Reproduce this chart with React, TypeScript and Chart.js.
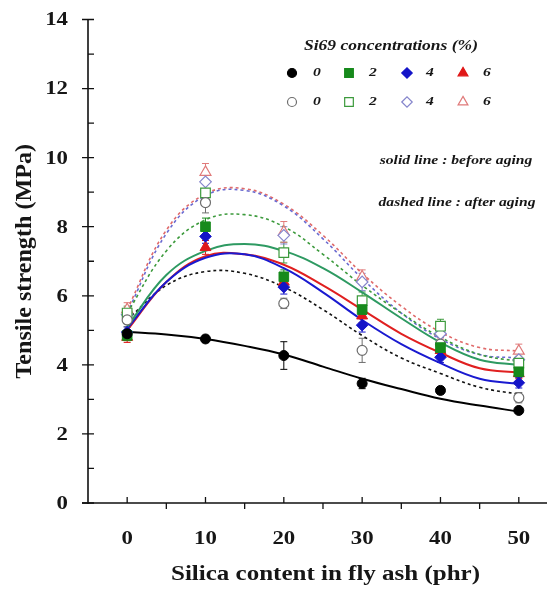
import React, { useEffect, useRef } from "react";
import { Chart, registerables } from "chart.js";
import { drawPoint } from "chart.js/helpers";

Chart.register(...registerables);

// ---------- data ----------
const silicaPhr = [0, 10, 20, 30, 40, 50];

// measured points, before aging (filled symbols)
const before0 = [4.9, 4.75, 4.27, 3.46, 3.26, 2.68];
const before2 = [4.85, 8.0, 6.55, 5.6, 4.5, 3.8];
const before4 = [4.95, 7.72, 6.25, 5.15, 4.22, 3.48];
const before6 = [4.8, 7.4, 6.4, 5.42, 4.42, 3.75];
// measured points, after aging (open symbols)
const after0 = [5.3, 8.7, 5.78, 4.42, 4.6, 3.05];
const after2 = [5.5, 8.98, 7.25, 5.86, 5.12, 4.05];
const after4 = [5.45, 9.3, 7.75, 6.4, 4.9, 4.15];
const after6 = [5.6, 9.58, 7.85, 6.55, 4.95, 4.4];

// error bars (half-length)
const errBefore0 = [0.1, 0.1, 0.4, 0.15, 0.1, 0.08];
const errBefore2 = [0.15, 0.25, 0.2, 0.2, 0.15, 0.15];
const errBefore4 = [0.15, 0.2, 0.2, 0.2, 0.15, 0.15];
const errBefore6 = [0.15, 0.2, 0.2, 0.2, 0.15, 0.15];
const errAfter0 = [0.2, 0.3, 0.15, 0.35, 0.2, 0.15];
const errAfter2 = [0.2, 0.3, 0.3, 0.25, 0.2, 0.2];
const errAfter4 = [0.2, 0.2, 0.25, 0.25, 0.2, 0.2];
const errAfter6 = [0.2, 0.25, 0.3, 0.2, 0.2, 0.2];

// fitted curves, read every 5 phr
const fitX = [0, 5, 10, 15, 20, 25, 30, 35, 40, 45, 50];
const fitBefore0 = [4.95, 4.88, 4.75, 4.55, 4.3, 3.95, 3.6, 3.3, 3.02, 2.82, 2.65];
const fitBefore2 = [5.1, 6.6, 7.3, 7.5, 7.3, 6.8, 6.1, 5.35, 4.65, 4.15, 4.0];
const fitBefore4 = [5.05, 6.4, 7.1, 7.2, 6.8, 6.1, 5.3, 4.6, 4.05, 3.6, 3.45];
const fitBefore6 = [5.0, 6.4, 7.15, 7.2, 6.9, 6.3, 5.6, 4.9, 4.35, 3.9, 3.78];
const fitAfter0 = [5.3, 6.3, 6.7, 6.65, 6.25, 5.6, 4.85, 4.2, 3.75, 3.35, 3.15];
const fitAfter2 = [5.5, 7.3, 8.2, 8.35, 8.0, 7.2, 6.3, 5.5, 4.8, 4.3, 4.1];
const fitAfter4 = [5.5, 7.8, 8.9, 9.05, 8.6, 7.65, 6.5, 5.5, 4.75, 4.3, 4.2];
const fitAfter6 = [5.6, 7.9, 8.95, 9.1, 8.65, 7.75, 6.65, 5.7, 4.95, 4.5, 4.4];

// ticks & labels
const yMajorTicks = [0, 2, 4, 6, 8, 10, 12, 14];
const yMinorTicks = [1, 3, 5, 7, 9, 11, 13];
const xMajorTicks = [0, 10, 20, 30, 40, 50];
const xMinorTicks = [5, 15, 25, 35, 45];
const concLabels = ["0", "2", "4", "6"];

const xTitle = "Silica content in fly ash (phr)";
const yTitle = "Tensile strength (MPa)";
const legendTitle = "Si69 concentrations (%)";
const noteSolid = "solid line : before aging";
const noteDashed = "dashed line : after aging";

// ---------- styles ----------
const SERIF = '"Liberation Serif", "Times New Roman", serif';
const TEXT = "#161616";

const filledStyles = [
  { style: "circle", r: 5, color: "#000000" },
  { style: "rect", r: 6.8, color: "#178a1c" },
  { style: "rectRot", r: 5.8, color: "#1414c8" },
  { style: "triangle", r: 6.3, color: "#e01818" },
];
const openStyles = [
  { style: "circle", r: 5, color: "#6e6e6e" },
  { style: "rect", r: 6.8, color: "#3c9a3c" },
  { style: "rectRot", r: 5.8, color: "#8585cc" },
  { style: "triangle", r: 6.3, color: "#e07a7a" },
];
const solidLineColors = ["#000000", "#2e9a62", "#1a1ad0", "#e02020"];
const dashedLineColors = ["#111111", "#3c9a3c", "#6a6ad0", "#e06a6a"];

function pts(xs: number[], ys: number[]) {
  return xs.map((x, i) => ({ x, y: ys[i] }));
}

function stretchText(
  ctx: CanvasRenderingContext2D,
  text: string,
  x: number,
  y: number,
  font: string,
  align: CanvasTextAlign,
  sx: number,
  rot = 0
) {
  ctx.save();
  ctx.translate(x, y);
  if (rot) ctx.rotate(rot);
  ctx.scale(sx, 1);
  ctx.font = font;
  ctx.textAlign = align;
  ctx.textBaseline = "middle";
  ctx.fillStyle = TEXT;
  ctx.fillText(text, 0, 0);
  ctx.restore();
}

const decorPlugin = {
  id: "decor",
  beforeDatasetsDraw(chart: any) {
    const { ctx, scales } = chart;
    const xs = scales.x;
    const ys = scales.y;
    ctx.save();
    chart.data.datasets.forEach((ds: any) => {
      if (!ds.errors) return;
      ctx.strokeStyle = ds.borderColor;
      ctx.lineWidth = 1;
      ds.data.forEach((p: any, i: number) => {
        const e = ds.errors[i];
        if (!e) return;
        const px = xs.getPixelForValue(p.x);
        const y1 = ys.getPixelForValue(p.y - e);
        const y2 = ys.getPixelForValue(p.y + e);
        ctx.beginPath();
        ctx.moveTo(px, y1);
        ctx.lineTo(px, y2);
        ctx.moveTo(px - 3.5, y1);
        ctx.lineTo(px + 3.5, y1);
        ctx.moveTo(px - 3.5, y2);
        ctx.lineTo(px + 3.5, y2);
        ctx.stroke();
      });
    });
    ctx.restore();
  },
  afterDraw(chart: any) {
    const { ctx, scales, chartArea } = chart;
    const xs = scales.x;
    const ys = scales.y;
    const left = chartArea.left;
    const y0 = ys.getPixelForValue(0);
    ctx.save();
    ctx.strokeStyle = "#111";
    ctx.lineWidth = 1.6;
    // axes lines
    ctx.beginPath();
    ctx.moveTo(left, ys.getPixelForValue(14));
    ctx.lineTo(left, y0 + 1);
    ctx.moveTo(left - 6, y0);
    ctx.lineTo(chartArea.right, y0);
    ctx.stroke();
    ctx.lineWidth = 1.3;
    ctx.beginPath();
    yMajorTicks.forEach((v) => {
      const p = ys.getPixelForValue(v);
      ctx.moveTo(left - 6, p);
      ctx.lineTo(left + 6, p);
    });
    yMinorTicks.forEach((v) => {
      const p = ys.getPixelForValue(v);
      ctx.moveTo(left, p);
      ctx.lineTo(left + 6, p);
    });
    xMajorTicks.forEach((v) => {
      const p = xs.getPixelForValue(v);
      ctx.moveTo(p, y0);
      ctx.lineTo(p, y0 - 6);
    });
    xMinorTicks.forEach((v) => {
      const p = xs.getPixelForValue(v);
      ctx.moveTo(p, y0);
      ctx.lineTo(p, y0 + 6);
    });
    ctx.stroke();

    // tick labels
    const tickFont = `bold 19px ${SERIF}`;
    yMajorTicks.forEach((v) => {
      stretchText(ctx, String(v), 68, ys.getPixelForValue(v) + 1, tickFont, "right", 1.2);
    });
    xMajorTicks.forEach((v) => {
      stretchText(ctx, String(v), xs.getPixelForValue(v), 539, tickFont, "center", 1.2);
    });

    // axis titles
    stretchText(ctx, xTitle, (chartArea.left + chartArea.right) / 2 + 8, 575, `bold 20px ${SERIF}`, "center", 1.25);
    stretchText(ctx, yTitle, 25, (chartArea.top + chartArea.bottom) / 2, `bold 23px ${SERIF}`, "center", 1.05, -Math.PI / 2);

    // legend
    stretchText(ctx, legendTitle, 391, 46, `italic bold 14px ${SERIF}`, "center", 1.25);
    const symX = [292, 349, 407, 463];
    const labX = [317, 373, 430, 487];
    const rows = [73, 102];
    [filledStyles, openStyles].forEach((set, ri) => {
      set.forEach((s, i) => {
        ctx.save();
        ctx.fillStyle = ri === 0 ? s.color : "#ffffff";
        ctx.strokeStyle = s.color;
        ctx.lineWidth = 1.2;
        drawPoint(ctx, { pointStyle: s.style as any, radius: s.r * 0.9, borderWidth: 1.2, rotation: 0 }, symX[i], rows[ri]);
        ctx.restore();
        stretchText(ctx, concLabels[i], labX[i], rows[ri], `italic bold 13px ${SERIF}`, "center", 1.2);
      });
    });
    stretchText(ctx, noteSolid, 456, 161, `italic bold 13px ${SERIF}`, "center", 1.2);
    stretchText(ctx, noteDashed, 457, 203, `italic bold 13px ${SERIF}`, "center", 1.2);
    ctx.restore();
  },
};

export default function App() {
  const ref = useRef<HTMLCanvasElement>(null);
  useEffect(() => {
    const canvas = ref.current;
    if (!canvas) return;
    const beforeSets = [before0, before2, before4, before6];
    const afterSets = [after0, after2, after4, after6];
    const beforeErr = [errBefore0, errBefore2, errBefore4, errBefore6];
    const afterErr = [errAfter0, errAfter2, errAfter4, errAfter6];
    const fitsBefore = [fitBefore0, fitBefore2, fitBefore4, fitBefore6];
    const fitsAfter = [fitAfter0, fitAfter2, fitAfter4, fitAfter6];

    const datasets: any[] = [];
    beforeSets.forEach((ys, i) => {
      const s = filledStyles[i];
      datasets.push({
        label: `before ${concLabels[i]}`,
        data: pts(silicaPhr, ys),
        errors: beforeErr[i],
        pointStyle: s.style,
        pointRadius: s.r,
        backgroundColor: s.color,
        borderColor: s.color,
        pointBorderWidth: 1,
        showLine: false,
      });
    });
    afterSets.forEach((ys, i) => {
      const s = openStyles[i];
      datasets.push({
        label: `after ${concLabels[i]}`,
        data: pts(silicaPhr, ys),
        errors: afterErr[i],
        pointStyle: s.style,
        pointRadius: s.r,
        backgroundColor: "#ffffff",
        borderColor: s.color,
        pointBorderWidth: 1.2,
        showLine: false,
      });
    });
    fitsBefore.forEach((ys, i) => {
      datasets.push({
        label: `fit before ${concLabels[i]}`,
        data: pts(fitX, ys),
        showLine: true,
        tension: 0.4,
        pointRadius: 0,
        borderColor: solidLineColors[i],
        borderWidth: 2,
        fill: false,
      });
    });
    fitsAfter.forEach((ys, i) => {
      datasets.push({
        label: `fit after ${concLabels[i]}`,
        data: pts(fitX, ys),
        showLine: true,
        tension: 0.4,
        pointRadius: 0,
        borderColor: dashedLineColors[i],
        borderWidth: 1.6,
        borderDash: [3, 3],
        fill: false,
      });
    });

    const chart = new Chart(canvas, {
      type: "scatter",
      data: { datasets },
      options: {
        responsive: false,
        animation: false,
        devicePixelRatio: 1,
        layout: { padding: { top: 19.5, left: 0, right: 0, bottom: 0 } },
        plugins: { legend: { display: false }, tooltip: { enabled: false } },
        scales: {
          x: {
            type: "linear",
            min: -5,
            max: 53.6,
            ticks: { display: false },
            grid: { display: false },
            border: { display: false },
            afterFit: (s: any) => {
              s.height = 86;
            },
          },
          y: {
            type: "linear",
            min: 0,
            max: 14,
            ticks: { display: false },
            grid: { display: false },
            border: { display: false },
            afterFit: (s: any) => {
              s.width = 88;
            },
          },
        },
      } as any,
      plugins: [decorPlugin],
    });
    return () => chart.destroy();
  }, []);
  return (
    <div style={{ position: "absolute", left: 0, top: 0, width: 555, height: 589, background: "#fff" }}>
      <canvas ref={ref} width={555} height={589} style={{ display: "block" }} />
    </div>
  );
}
